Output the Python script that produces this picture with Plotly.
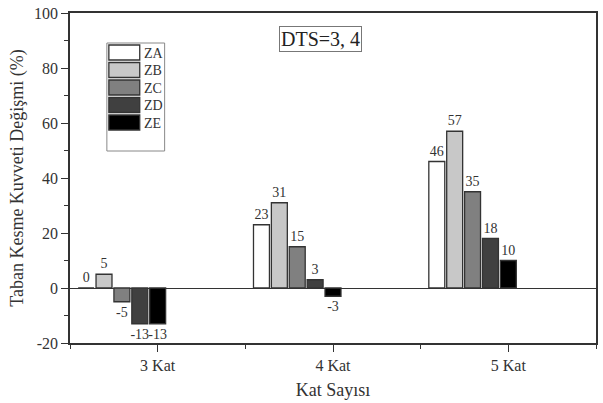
import plotly.graph_objects as go

categories = ["3 Kat", "4 Kat", "5 Kat"]
series_names = ["ZA", "ZB", "ZC", "ZD", "ZE"]
values_ZA = [0, 23, 46]
values_ZB = [5, 31, 57]
values_ZC = [-5, 15, 35]
values_ZD = [-13, 3, 18]
values_ZE = [-13, -3, 10]
colors = ["#ffffff", "#c8c8c8", "#808080", "#404040", "#000000"]
y_ticks = [-20, 0, 20, 40, 60, 80, 100]
y_tick_labels = ["-20", "0", "20", "40", "60", "80", "100"]

series_values = [values_ZA, values_ZB, values_ZC, values_ZD, values_ZE]
xpos = list(range(len(categories)))

FONT = "Liberation Serif"
TXT = "#333333"
step = 0.102
bw = 0.091

fig = go.Figure()
for i, (name, vals, col) in enumerate(zip(series_names, series_values, colors)):
    fig.add_trace(go.Bar(
        x=xpos, y=vals, name=name,
        width=bw, offset=(i - 4) * step - bw / 2,
        marker=dict(color=col, line=dict(color="#333333", width=1.3)),
        text=[str(v) for v in vals], textposition="outside",
        constraintext="none",
        textfont=dict(family=FONT, size=14, color=TXT),
        cliponaxis=False, showlegend=False,
    ))

# manual legend (box + swatches + names)
lx0, lx1, ly0, ly1 = 107, 165, 43, 151
shapes = [dict(type="rect", xref="paper", yref="paper",
               x0=(lx0 - 70) / 528, x1=(lx1 - 70) / 528,
               y0=(343 - ly1) / 330, y1=(343 - ly0) / 330,
               line=dict(color="#888888", width=1), fillcolor="white", layer="below")]
annotations = []
for i, (name, col) in enumerate(zip(series_names, colors)):
    top = 45 + i * 17.5
    shapes.append(dict(type="rect", xref="paper", yref="paper",
                       x0=(109 - 70) / 528, x1=(140 - 70) / 528,
                       y0=(343 - (top + 15)) / 330, y1=(343 - top) / 330,
                       line=dict(color="#333333", width=1.3), fillcolor=col))
    annotations.append(dict(xref="paper", yref="paper", x=(142 - 70) / 528,
                            y=(343 - (top + 8)) / 330, xanchor="left", yanchor="middle",
                            text=name, showarrow=False,
                            font=dict(family=FONT, size=14, color=TXT)))

annotations.append(dict(xref="paper", yref="paper", x=(321.5 - 70) / 528,
                        y=(343 - 38.5) / 330, text="DTS=3, 4", showarrow=False,
                        xanchor="center", yanchor="middle",
                        font=dict(family=FONT, size=20, color="#222222"),
                        bordercolor="#777777", borderwidth=1, borderpad=1,
                        bgcolor="white"))

fig.update_layout(
    width=603, height=403,
    margin=dict(l=70, r=5, t=13, b=60),
    plot_bgcolor="white", paper_bgcolor="white",
    barmode="overlay",
    shapes=shapes, annotations=annotations,
    font=dict(family=FONT, color=TXT),
)
fig.update_xaxes(
    range=[-0.5, 2.5], tickvals=xpos, ticktext=categories,
    ticks="outside", ticklen=7, tickwidth=1.3, tickcolor="#333333",
    minor=dict(dtick=0.5, tick0=-0.5, ticks="outside", ticklen=4, tickcolor="#333333"),
    showline=True, linecolor="#333333", linewidth=1.5, mirror=True,
    showgrid=False, zeroline=False,
    tickfont=dict(family=FONT, size=16, color=TXT),
    title=dict(text="Kat Sayısı", font=dict(family=FONT, size=18, color=TXT), standoff=10),
)
fig.update_yaxes(
    range=[-20, 100], tickvals=y_ticks, ticktext=y_tick_labels,
    ticks="outside", ticklen=7, tickwidth=1.3, tickcolor="#333333",
    minor=dict(dtick=10, ticks="outside", ticklen=4, tickcolor="#333333"),
    showline=True, linecolor="#333333", linewidth=1.5, mirror=True,
    showgrid=False, zeroline=True, zerolinecolor="#333333", zerolinewidth=1.2,
    tickfont=dict(family=FONT, size=16, color=TXT),
    title=dict(text="Taban Kesme Kuvveti Değişmi (%)", font=dict(family=FONT, size=18, color=TXT), standoff=6),
)

fig.write_html("out.html")
